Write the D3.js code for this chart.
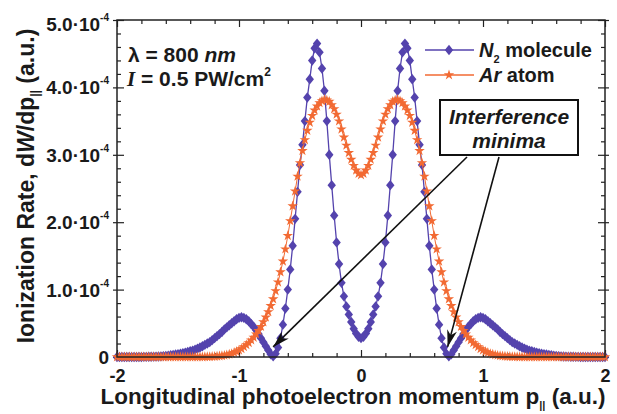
<!DOCTYPE html>
<html>
<head>
<meta charset="utf-8">
<script src="https://cdn.jsdelivr.net/npm/d3@7"></script>
<style>
body { margin: 0; background: #fff; }
text { font-family: "Liberation Sans", Arial, sans-serif; font-weight: bold; fill: #1a1a1a; }
</style>
</head>
<body>
<div id="chart"></div>
<script>
// sampling grid of the longitudinal momentum (a.u.)
var pStart = -2, pStep = 0.02;

// ionization rate, units of 1e-4 a.u.
var n2Rate = [
	0, 0, 0, 0, 0, 0, 0, 0, 0,
	0.001, 0.001, 0.002, 0.002, 0.003, 0.004, 0.005, 0.006, 0.008, 0.01,
	0.013, 0.016, 0.02, 0.025, 0.03, 0.036, 0.042, 0.048, 0.055, 0.065,
	0.075, 0.085, 0.095, 0.11, 0.125, 0.14, 0.16, 0.18, 0.20, 0.22,
	0.25, 0.28, 0.31, 0.34, 0.37, 0.41, 0.44, 0.47, 0.50, 0.53,
	0.56, 0.58, 0.59, 0.58, 0.56, 0.53, 0.49, 0.45, 0.40, 0.34,
	0.28, 0.22, 0.16, 0.10, 0.04, 0.01, 0.05, 0.14, 0.28, 0.48,
	0.72, 1.00, 1.30, 1.65, 2.05, 2.45, 2.85, 3.15, 3.50, 3.85,
	4.12, 4.40, 4.58, 4.65, 4.52, 4.28, 3.95, 3.50, 3.00, 2.55,
	2.10, 1.70, 1.38, 1.10, 0.90, 0.75, 0.63, 0.52, 0.42, 0.35,
	0.30,
	0.28,
	0.30, 0.35, 0.42, 0.52, 0.63, 0.75, 0.90, 1.10, 1.38, 1.70,
	2.10, 2.55, 3.00, 3.50, 3.95, 4.28, 4.52, 4.65, 4.58, 4.40,
	4.12, 3.85, 3.50, 3.15, 2.85, 2.45, 2.05, 1.65, 1.30, 1.00,
	0.72, 0.48, 0.28, 0.14, 0.05, 0.01, 0.04, 0.10, 0.16, 0.22,
	0.28, 0.34, 0.40, 0.45, 0.49, 0.53, 0.56, 0.58, 0.59, 0.58,
	0.56, 0.53, 0.50, 0.47, 0.44, 0.41, 0.37, 0.34, 0.31, 0.28,
	0.25, 0.22, 0.20, 0.18, 0.16, 0.14, 0.125, 0.11, 0.095, 0.085,
	0.075, 0.065, 0.055, 0.048, 0.042, 0.036, 0.03, 0.025, 0.02, 0.016,
	0.013, 0.01, 0.008, 0.006, 0.005, 0.004, 0.003, 0.002, 0.002, 0.001,
	0.001, 0, 0, 0, 0, 0, 0, 0, 0, 0
];

var arRate = [
	0, 0, 0, 0, 0, 0, 0, 0, 0, 0,
	0, 0, 0, 0, 0, 0, 0, 0, 0, 0,
	0, 0, 0, 0, 0, 0, 0, 0, 0, 0,
	0, 0, 0, 0, 0,
	0.001, 0.002, 0.003, 0.004, 0.006, 0.008, 0.01, 0.014, 0.018, 0.024,
	0.03, 0.04, 0.05, 0.065, 0.08, 0.10, 0.12, 0.15, 0.18, 0.21,
	0.25, 0.29, 0.34, 0.39, 0.45, 0.52, 0.59, 0.67, 0.76, 0.86,
	0.98, 1.11, 1.26, 1.42, 1.60, 1.80, 2.02, 2.24, 2.46, 2.68,
	2.88, 3.06, 3.22, 3.36, 3.48, 3.58, 3.66, 3.72, 3.77, 3.80,
	3.82, 3.81, 3.79, 3.74, 3.68, 3.60, 3.50, 3.38, 3.26, 3.14,
	3.03, 2.93, 2.84, 2.77, 2.72,
	2.70,
	2.72, 2.77, 2.84, 2.93, 3.03, 3.14, 3.26, 3.38, 3.50, 3.60,
	3.68, 3.74, 3.79, 3.81, 3.82, 3.80, 3.77, 3.72, 3.66, 3.58,
	3.48, 3.36, 3.22, 3.06, 2.88, 2.68, 2.46, 2.24, 2.02, 1.80,
	1.60, 1.42, 1.26, 1.11, 0.98, 0.86, 0.76, 0.67, 0.59, 0.52,
	0.45, 0.39, 0.34, 0.29, 0.25, 0.21, 0.18, 0.15, 0.12, 0.10,
	0.08, 0.065, 0.05, 0.04, 0.03, 0.024, 0.018, 0.014, 0.01, 0.008,
	0.006, 0.004, 0.003, 0.002, 0.001,
	0, 0, 0, 0, 0, 0, 0, 0, 0, 0,
	0, 0, 0, 0, 0, 0, 0, 0, 0, 0,
	0, 0, 0, 0, 0, 0, 0, 0, 0, 0,
	0, 0, 0, 0, 0
];

var xTicks = [-2, -1, 0, 1, 2];
var xMinorTicks = [-1.8, -1.6, -1.4, -1.2, -0.8, -0.6, -0.4, -0.2, 0.2, 0.4, 0.6, 0.8, 1.2, 1.4, 1.6, 1.8];
var yTicks = [0, 1, 2, 3, 4, 5];
var yMinorTicks = [0.2, 0.4, 0.6, 0.8, 1.2, 1.4, 1.6, 1.8, 2.2, 2.4, 2.6, 2.8, 3.2, 3.4, 3.6, 3.8, 4.2, 4.4, 4.6, 4.8];

var conf = {
	width: 617, height: 414,
	left: 117, right: 605, top: 20, bottom: 357,
	n2Color: "#5443ad", arColor: "#f26a33"
};

var momentum = n2Rate.map(function(v, i) { return +(pStart + i * pStep).toFixed(2); });

var x = d3.scaleLinear().domain([-2, 2]).range([conf.left, conf.right]);
var y = d3.scaleLinear().domain([0, 5]).range([conf.bottom, conf.top]);

var $svg = d3.select("#chart").append("svg")
	.attr("width", conf.width)
	.attr("height", conf.height);

var defs = $svg.append("defs");
defs.append("marker")
	.attr("id", "arrowhead")
	.attr("viewBox", "-18 -6 20 12")
	.attr("refX", 0).attr("refY", 0)
	.attr("markerWidth", 20).attr("markerHeight", 12)
	.attr("markerUnits", "userSpaceOnUse")
	.attr("orient", "auto")
	.append("path")
	.attr("d", "M0,0L-17,-5L-12,0L-17,5Z")
	.attr("fill", "#111");

// axes: ticks only, frame is drawn separately
var axisStyle = function(g) {
	g.select(".domain").remove();
	g.selectAll(".tick line").attr("stroke", "#222").attr("stroke-width", 1.2);
};

$svg.append("g").attr("transform", "translate(0," + conf.bottom + ")")
	.call(d3.axisBottom(x).tickValues(xMinorTicks).tickSize(-4).tickFormat(""))
	.call(axisStyle);
$svg.append("g").attr("transform", "translate(0," + conf.top + ")")
	.call(d3.axisTop(x).tickValues(xMinorTicks).tickSize(-4).tickFormat(""))
	.call(axisStyle);

var xAxis = $svg.append("g").attr("transform", "translate(0," + conf.bottom + ")")
	.call(d3.axisBottom(x).tickValues(xTicks).tickSize(-7).tickPadding(12)
		.tickFormat(function(d) { return d < 0 ? "-" + Math.abs(d) : d; }))
	.call(axisStyle);
xAxis.selectAll(".tick text").attr("font-size", 18).attr("fill", "#1a1a1a").attr("font-family", null);
$svg.append("g").attr("transform", "translate(0," + conf.top + ")")
	.call(d3.axisTop(x).tickValues(xTicks).tickSize(-7).tickFormat(""))
	.call(axisStyle);

$svg.append("g").attr("transform", "translate(" + conf.left + ",0)")
	.call(d3.axisLeft(y).tickValues(yMinorTicks).tickSize(-4).tickFormat(""))
	.call(axisStyle);
$svg.append("g").attr("transform", "translate(" + conf.right + ",0)")
	.call(d3.axisRight(y).tickValues(yMinorTicks).tickSize(-4).tickFormat(""))
	.call(axisStyle);
$svg.append("g").attr("transform", "translate(" + conf.left + ",0)")
	.call(d3.axisLeft(y).tickValues(yTicks).tickSize(-7).tickFormat(""))
	.call(axisStyle);
$svg.append("g").attr("transform", "translate(" + conf.right + ",0)")
	.call(d3.axisRight(y).tickValues(yTicks).tickSize(-7).tickFormat(""))
	.call(axisStyle);
// major y ticks also poke out of the frame
$svg.append("g").attr("transform", "translate(" + conf.left + ",0)")
	.call(d3.axisLeft(y).tickValues(yTicks).tickSize(4).tickFormat(""))
	.call(axisStyle);
$svg.append("g").attr("transform", "translate(" + conf.right + ",0)")
	.call(d3.axisRight(y).tickValues(yTicks).tickSize(4).tickFormat(""))
	.call(axisStyle);

var yLabels = $svg.append("g").selectAll("text").data(yTicks).enter()
	.append("text")
	.attr("x", conf.left - 8)
	.attr("y", function(d) { return y(d) + 7 + (d === 5 ? 4 : 0); })
	.attr("text-anchor", "end")
	.attr("font-size", 19);
yLabels.each(function(d) {
	var t = d3.select(this);
	if (d === 0) {
		t.text("0");
		return;
	}
	t.append("tspan").text(d.toFixed(1) + "\u00b710");
	t.append("tspan").attr("font-size", 10).attr("dy", -10).text("-4");
});

// series
var points = function(vals) {
	return vals.map(function(v, i) { return { p: momentum[i], v: v }; });
};
var n2Data = points(n2Rate), arData = points(arRate);

var line = d3.line()
	.x(function(d) { return x(d.p); })
	.y(function(d) { return y(d.v); });

var diamond = {
	draw: function(ctx) {
		ctx.moveTo(0, -5.2);
		ctx.lineTo(4.2, 0);
		ctx.lineTo(0, 5.2);
		ctx.lineTo(-4.2, 0);
		ctx.closePath();
	}
};
var diamondPath = d3.symbol().type(diamond)();
var starPath = d3.symbol().type(d3.symbolStar).size(34)();

var plot = $svg.append("g");

plot.append("path").datum(n2Data)
	.attr("d", line)
	.attr("fill", "none")
	.attr("stroke", conf.n2Color)
	.attr("stroke-width", 1.3);
plot.selectAll("path.n2").data(n2Data).enter()
	.append("path")
	.attr("class", "n2")
	.attr("d", diamondPath)
	.attr("transform", function(d) { return "translate(" + x(d.p) + "," + y(d.v) + ")"; })
	.attr("fill", conf.n2Color);

plot.append("path").datum(arData)
	.attr("d", line)
	.attr("fill", "none")
	.attr("stroke", conf.arColor)
	.attr("stroke-width", 1);
plot.selectAll("path.ar").data(arData).enter()
	.append("path")
	.attr("class", "ar")
	.attr("d", starPath)
	.attr("transform", function(d) { return "translate(" + x(d.p) + "," + y(d.v) + ")"; })
	.attr("fill", conf.arColor);

// frame
$svg.append("rect")
	.attr("x", conf.left).attr("y", conf.top)
	.attr("width", conf.right - conf.left)
	.attr("height", conf.bottom - conf.top)
	.attr("fill", "none")
	.attr("stroke", "#222")
	.attr("stroke-width", 1.5);

// legend
var legend = $svg.append("g");
var legendRows = [
	{ color: conf.n2Color, sym: diamondPath, y: 50, main: "N", sub: "2", rest: " molecule" },
	{ color: conf.arColor, sym: starPath, y: 75, main: "Ar", sub: "", rest: " atom" }
];
legendRows.forEach(function(r) {
	legend.append("line")
		.attr("x1", 425).attr("x2", 474)
		.attr("y1", r.y).attr("y2", r.y)
		.attr("stroke", r.color).attr("stroke-width", 1.5);
	legend.append("path")
		.attr("d", r.sym)
		.attr("transform", "translate(449," + r.y + ")")
		.attr("fill", r.color);
	var t = legend.append("text")
		.attr("x", 479).attr("y", r.y + 7)
		.attr("font-size", 20);
	t.append("tspan").attr("font-style", "italic").text(r.main);
	if (r.sub) {
		t.append("tspan").attr("font-size", 11).attr("dy", 6).text(r.sub);
		t.append("tspan").attr("dy", -6).text(r.rest);
	} else {
		t.append("tspan").text(r.rest);
	}
});

// laser parameters
var info1 = $svg.append("text").attr("x", 128).attr("y", 62).attr("font-size", 21);
info1.append("tspan").text("\u03bb = 800 ");
info1.append("tspan").attr("font-style", "italic").text("nm");
var info2 = $svg.append("text").attr("x", 127).attr("y", 86).attr("font-size", 21);
info2.append("tspan").attr("font-style", "italic").attr("font-family", "Liberation Serif, serif").text("I");
info2.append("tspan").text(" = 0.5 PW/cm");
info2.append("tspan").attr("font-size", 12).attr("dy", -10).text("2");

// interference minima note
var note = $svg.append("g");
note.append("line")
	.attr("x1", 467).attr("y1", 157)
	.attr("x2", x(-0.72)).attr("y2", y(0.15))
	.attr("stroke", "#111").attr("stroke-width", 1.6)
	.attr("marker-end", "url(#arrowhead)");
note.append("line")
	.attr("x1", 499).attr("y1", 157)
	.attr("x2", x(0.71)).attr("y2", y(0.15))
	.attr("stroke", "#111").attr("stroke-width", 1.6)
	.attr("marker-end", "url(#arrowhead)");
note.append("rect")
	.attr("x", 440).attr("y", 100)
	.attr("width", 138).attr("height", 55)
	.attr("fill", "#fff")
	.attr("stroke", "#111").attr("stroke-width", 2);
note.append("text").attr("x", 509).attr("y", 124)
	.attr("text-anchor", "middle").attr("font-size", 21).attr("font-style", "italic")
	.text("Interference");
note.append("text").attr("x", 509).attr("y", 148)
	.attr("text-anchor", "middle").attr("font-size", 21).attr("font-style", "italic")
	.text("minima");

// axis titles
var xTitle = $svg.append("text")
	.attr("x", 353).attr("y", 404)
	.attr("text-anchor", "middle")
	.attr("font-size", 22.5);
xTitle.append("tspan").text("Longitudinal photoelectron momentum p");
xTitle.append("tspan").attr("font-size", 11).attr("dy", 5).text("||");
xTitle.append("tspan").attr("dy", -5).text(" (a.u.)");

var yTitle = $svg.append("text")
	.attr("transform", "translate(34,186) rotate(-90)")
	.attr("text-anchor", "middle")
	.attr("font-size", 23);
yTitle.append("tspan").text("Ionization Rate, d");
yTitle.append("tspan").attr("font-style", "italic").text("W");
yTitle.append("tspan").text("/dp");
yTitle.append("tspan").attr("font-size", 12).attr("dy", 5).text("||");
yTitle.append("tspan").attr("dy", -5).text(" (a.u.)");
</script>
</body>
</html>
